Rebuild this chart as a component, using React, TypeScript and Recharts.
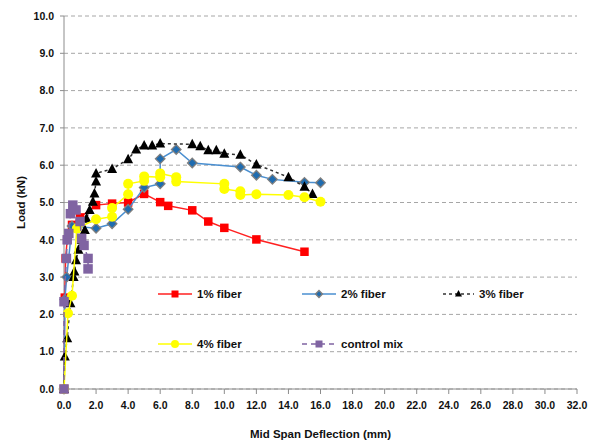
import React from "react";
import { ScatterChart, Scatter, XAxis, YAxis, CartesianGrid, Legend } from "recharts";

type Point = { x: number; y: number };
type Marker = "square" | "diamond" | "triangle" | "circle";

const toPoints = (rows: number[][]): Point[] => rows.map(([x, y]) => ({ x, y }));

// mid span deflection (mm), load (kN)
const fiber1 = toPoints([
  [0, 0], [0.05, 2.45], [0.1, 3.5], [0.2, 4.0], [0.5, 4.4], [1.0, 4.6], [2.0, 4.93],
  [3.0, 4.97], [4.0, 5.0], [5.0, 5.23], [6.0, 5.01], [6.5, 4.91], [8.0, 4.79],
  [9.0, 4.49], [10.0, 4.32], [12.0, 4.01], [15.0, 3.68],
]);

const fiber2 = toPoints([
  [0, 0], [0.05, 2.4], [0.17, 3.0], [0.5, 4.37], [2.0, 4.31], [3.0, 4.43], [4.0, 4.82],
  [5.0, 5.4], [6.0, 5.5], [6.0, 6.17], [7.0, 6.42], [8.0, 6.06], [11.0, 5.95],
  [12.0, 5.73], [13.0, 5.62], [15.0, 5.54], [16.0, 5.53],
]);

const fiber3 = toPoints([
  [0, 0], [0.05, 0.87], [0.2, 1.36], [0.4, 2.3], [0.6, 3.0], [0.65, 3.15], [0.75, 3.45],
  [0.9, 3.73], [1.1, 4.0], [1.3, 4.26], [1.4, 4.57], [1.6, 4.8], [1.8, 5.02], [1.9, 5.24],
  [2.0, 5.56], [2.0, 5.78], [3.0, 5.9], [4.0, 6.16], [4.5, 6.42], [5.0, 6.53], [5.5, 6.53],
  [6.0, 6.58], [8.0, 6.56], [8.5, 6.51], [9.0, 6.4], [9.5, 6.4], [10.0, 6.31],
  [11.0, 6.28], [12.0, 6.02], [14.0, 5.68], [15.0, 5.42], [15.5, 5.23],
]);

const fiber4 = toPoints([
  [0, 0], [0.25, 2.03], [0.5, 2.5], [0.8, 4.3], [2.0, 4.55], [3.0, 4.62], [3.0, 4.85],
  [4.0, 5.22], [4.0, 5.5], [5.0, 5.58], [5.0, 5.7], [6.0, 5.68], [6.0, 5.78], [7.0, 5.68],
  [7.0, 5.56], [10.0, 5.5], [10.0, 5.36], [11.0, 5.3], [11.0, 5.2], [12.0, 5.22],
  [14.0, 5.2], [15.0, 5.14], [16.0, 5.02],
]);

const controlMix = toPoints([
  [0, 0], [0, 2.34], [0.15, 3.5], [0.2, 4.0], [0.3, 4.17], [0.4, 4.7], [0.55, 4.93],
  [0.75, 4.8], [1.0, 4.49], [1.1, 4.04], [1.25, 3.85], [1.5, 3.5], [1.5, 3.22],
]);

const xTicks = [0, 2, 4, 6, 8, 10, 12, 14, 16, 18, 20, 22, 24, 26, 28, 30, 32];
const yTicks = [0, 1, 2, 3, 4, 5, 6, 7, 8, 9, 10];

const FONT = "'Liberation Sans', Arial, sans-serif";

const series = [
  { name: "1% fiber", data: fiber1, color: "#ff0000", line: "#ff2020", dash: undefined, marker: "square" as Marker, size: 8.5, outline: "none" },
  { name: "2% fiber", data: fiber2, color: "#1f6cb0", line: "#4a8fd0", dash: undefined, marker: "diamond" as Marker, size: 9.5, outline: "#7f7f7f" },
  { name: "3% fiber", data: fiber3, color: "#000000", line: "#333333", dash: "3 3", marker: "triangle" as Marker, size: 10, outline: "none" },
  { name: "4% fiber", data: fiber4, color: "#ffff00", line: "#ffff00", dash: undefined, marker: "circle" as Marker, size: 10, outline: "none" },
  { name: "control mix", data: controlMix, color: "#8064a2", line: "#8064a2", dash: "5 4", marker: "square" as Marker, size: 9.5, outline: "none" },
];

function drawMarker(kind: Marker, cx: number, cy: number, s: number, fill: string, outline: string) {
  const h = s / 2;
  if (kind === "square") {
    return <rect x={cx - h} y={cy - h} width={s} height={s} fill={fill} stroke={outline} />;
  }
  if (kind === "diamond") {
    return (
      <polygon
        points={`${cx},${cy - h} ${cx + h},${cy} ${cx},${cy + h} ${cx - h},${cy}`}
        fill={fill}
        stroke={outline}
        strokeWidth={1.3}
      />
    );
  }
  if (kind === "triangle") {
    return (
      <polygon
        points={`${cx},${cy - h - 0.5} ${cx + h},${cy + h - 1} ${cx - h},${cy + h - 1}`}
        fill={fill}
      />
    );
  }
  return <circle cx={cx} cy={cy} r={h} fill={fill} />;
}

function LegendBox() {
  // two rows, three columns, as in the original plot area legend
  const cols = [8, 152, 293];
  const rows = [14, 64];
  return (
    <svg width={420} height={76} style={{ overflow: "visible" }}>
      {series.map((s, i) => {
        const x = cols[i % 3];
        const y = rows[Math.floor(i / 3)];
        const len = i % 3 === 2 ? 31 : 34;
        return (
          <g key={s.name}>
            <line x1={x} y1={y} x2={x + len} y2={y} stroke={s.line} strokeWidth={1.5} strokeDasharray={s.dash} />
            {drawMarker(s.marker, x + len / 2, y, s.marker === "circle" ? 8 : 7, s.color, s.outline)}
            <text x={x + len + 5} y={y + 4} fontSize={11.5} fontWeight={700} fontFamily={FONT} fill="#111">
              {s.name}
            </text>
          </g>
        );
      })}
    </svg>
  );
}

export default function App() {
  return (
    <div style={{ position: "absolute", left: 0, top: 0, width: 595, height: 443, background: "#fff" }}>
      <ScatterChart width={595} height={443} margin={{ top: 16, right: 18, bottom: 24, left: 24 }}>
        <CartesianGrid vertical={false} stroke="#a6a6a6" strokeDasharray="4 3" />
        <XAxis
          type="number"
          dataKey="x"
          domain={[0, 32]}
          ticks={xTicks}
          tickFormatter={(v: number) => v.toFixed(1)}
          interval={0}
          height={30}
          tickSize={5}
          tickMargin={8}
          axisLine={{ stroke: "#8c8c8c" }}
          tickLine={{ stroke: "#8c8c8c" }}
          tick={{ fill: "#111", fontSize: 10.5, fontWeight: 700, fontFamily: FONT }}
          label={{
            content: (p: any) => {
              const vb = p.viewBox;
              return (
                <text
                  x={vb.x + vb.width / 2}
                  y={vb.y + vb.height + 19}
                  textAnchor="middle"
                  fontSize={11.5}
                  fontWeight={700}
                  fontFamily={FONT}
                  fill="#111"
                >
                  Mid Span Deflection  (mm)
                </text>
              );
            },
          }}
        />
        <YAxis
          type="number"
          dataKey="y"
          domain={[0, 10]}
          ticks={yTicks}
          tickFormatter={(v: number) => v.toFixed(1)}
          interval={0}
          width={40}
          tickSize={4}
          tickMargin={6}
          axisLine={{ stroke: "#8c8c8c" }}
          tickLine={{ stroke: "#8c8c8c" }}
          tick={{ fill: "#111", fontSize: 10.5, fontWeight: 700, fontFamily: FONT }}
          label={{
            content: (p: any) => {
              const vb = p.viewBox;
              const cx = vb.x - 3;
              const cy = vb.y + vb.height / 2;
              return (
                <text
                  x={cx}
                  y={cy}
                  textAnchor="middle"
                  dominantBaseline="central"
                  transform={`rotate(-90 ${cx} ${cy})`}
                  fontSize={11.5}
                  fontWeight={700}
                  fontFamily={FONT}
                  fill="#111"
                >
                  Load (kN)
                </text>
              );
            },
          }}
        />
        {/* plot area frame: top and right edges */}
        <XAxis xAxisId="frame" orientation="top" type="number" domain={[0, 32]} height={0} tick={false} tickLine={false} axisLine={{ stroke: "#7f7f7f", strokeWidth: 1.5 }} />
        <YAxis yAxisId="frame" orientation="right" type="number" domain={[0, 10]} width={0} tick={false} tickLine={false} axisLine={{ stroke: "#3f3f3f", strokeWidth: 1.5 }} />
        <Legend
          layout="horizontal"
          verticalAlign="middle"
          align="center"
          wrapperStyle={{ left: 150, top: 280, width: 420, height: 76 }}
          content={() => <LegendBox />}
        />
        {series.map((s) => (
          <Scatter
            key={s.name}
            name={s.name}
            data={s.data}
            fill={s.color}
            line={{ stroke: s.line, strokeWidth: 1.5, strokeDasharray: s.dash }}
            shape={(p: any) => drawMarker(s.marker, p.cx, p.cy, s.size, s.color, s.outline)}
            isAnimationActive={false}
          />
        ))}
      </ScatterChart>
    </div>
  );
}
